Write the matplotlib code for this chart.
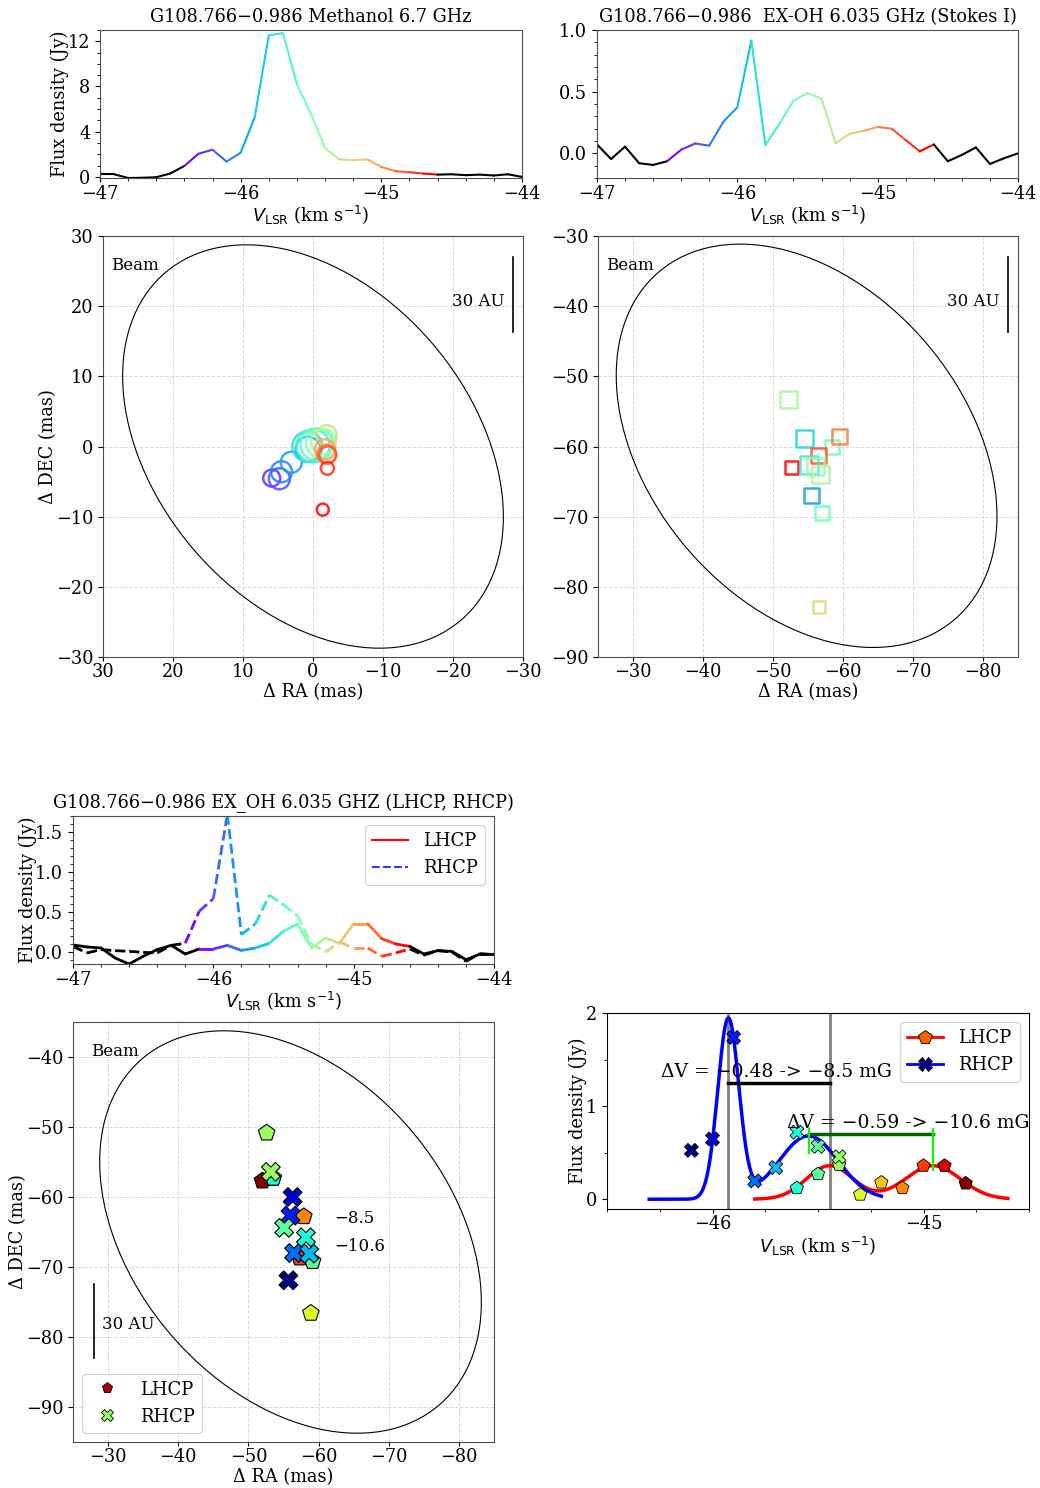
import numpy as np
import matplotlib
matplotlib.use('Agg')
import matplotlib.pyplot as plt
from matplotlib.collections import LineCollection
from matplotlib.patches import Ellipse
from matplotlib.lines import Line2D
from matplotlib.ticker import MultipleLocator

plt.rcParams['font.family'] = ['DejaVu Serif', 'DejaVu Sans']
plt.rcParams['mathtext.fontset'] = 'dejavusans'
plt.rcParams['font.size'] = 12.8
plt.rcParams['xtick.major.size'] = 3
plt.rcParams['xtick.major.pad'] = 1.2
plt.rcParams['axes.labelpad'] = 1.5

# channel velocities (km/s), shared by the three spectra
vel = [-47.0, -46.9, -46.8, -46.7, -46.6, -46.5, -46.4, -46.3, -46.2, -46.1, -46.0,
       -45.9, -45.8, -45.7, -45.6, -45.5, -45.4, -45.3, -45.2, -45.1, -45.0,
       -44.9, -44.8, -44.7, -44.6, -44.5, -44.4, -44.3, -44.2, -44.1, -44.0]

# methanol 6.7 GHz spectrum
mm_flux = [0.23, 0.23, -0.1, -0.08, -0.03, 0.3, 0.97, 2.05, 2.4, 1.35, 2.14,
           5.28, 12.52, 12.73, 8.2, 5.57, 2.55, 1.55, 1.47, 1.55, 0.88,
           0.5, 0.41, 0.29, 0.2, 0.23, 0.15, 0.2, 0.12, 0.23, 0.0]
# ex-OH Stokes I
ex_flux = [0.072, -0.046, 0.054, -0.08, -0.094, -0.064, 0.03, 0.08, 0.062, 0.255, 0.373,
           0.914, 0.067, 0.239, 0.426, 0.49, 0.442, 0.083, 0.158, 0.182, 0.214,
           0.2, 0.107, 0.016, 0.072, -0.064, -0.013, 0.048, -0.086, -0.04, 0.0]
# ex-OH LHCP / RHCP
lhcp_flux = [0.088, 0.063, 0.05, -0.075, -0.15, -0.054, 0.03, 0.083, -0.025, 0.038, 0.038,
             0.083, 0.02, 0.05, 0.11, 0.26, 0.35, 0.05, 0.175, 0.11, 0.354,
             0.354, 0.167, 0.1, 0.07, -0.025, 0.017, 0.008, -0.096, -0.025, -0.025]
rhcp_flux = [0.07, -0.012, 0.03, 0.017, 0.008, -0.004, -0.012, 0.083, 0.11, 0.51, 0.667,
             1.72, 0.217, 0.354, 0.71, 0.59, 0.454, 0.1, 0.0, 0.125, 0.05,
             0.05, -0.054, -0.012, 0.038, -0.04, 0.017, 0.0, -0.117, -0.02, -0.033]

# methanol spots (mas), velocity, symbol size (px)
mm_ra = [5.9, 4.8, 4.5, 3.1, 0.7, 0.8, 0.0, -0.5, -1.0, -1.5, -1.95, -1.7, -1.95, -2.1, -2.05, -1.4]
mm_dec = [-4.5, -4.6, -3.6, -2.25, -0.4, 0.0, 0.1, 0.3, 0.46, 0.7, 1.6, -0.4, -1.1, -1.2, -3.1, -9.0]
mm_vel = [-46.3, -46.2, -46.1, -46.0, -45.9, -45.8, -45.7, -45.6, -45.5, -45.4, -45.2,
          -45.0, -44.9, -44.8, -44.7, -44.6]
mm_size = [17, 21, 21, 21, 25, 30, 33, 32, 28, 25, 20, 20, 19, 17, 13, 12]

# ex-OH Stokes I spots
ex_ra = [-52.25, -54.5, -58.4, -59.46, -56.5, -52.6, -55.2, -56.0, -56.8, -55.55, -57.05, -56.5]
ex_dec = [-53.3, -58.86, -60.05, -58.6, -61.3, -63.04, -62.7, -62.8, -64.0, -66.96, -69.5, -82.86]
ex_vel = [-45.4, -45.9, -45.6, -44.9, -44.8, -44.6, -45.8, -45.5, -45.4, -46.1, -45.6, -45.2]
ex_size = [17, 17, 14, 15, 15, 13, 18, 17, 17, 15, 14, 12]

# Zeeman pair spots
lh_vel = [-45.6, -45.5, -45.4, -45.3, -45.2, -45.1, -45.0, -44.9, -44.8]
lh_pk = [0.12, 0.27, 0.37, 0.05, 0.18, 0.12, 0.36, 0.36, 0.17]
lh_ra = [-53.55, -59.15, -52.6, -58.9, -53.5, -57.9, -57.35, -57.3, -52.0]
lh_dec = [-57.3, -69.2, -50.85, -76.6, -57.3, -62.8, -68.7, -68.6, -57.7]
rh_vel = [-46.1, -46.0, -45.9, -45.8, -45.7, -45.6, -45.5, -45.4]
rh_pk = [0.525, 0.647, 1.737, 0.197, 0.34, 0.72, 0.567, 0.456]
rh_ra = [-55.7, -56.3, -56.0, -56.5, -58.67, -58.2, -55.1, -53.2]
rh_dec = [-71.9, -60.0, -62.66, -68.0, -68.1, -65.76, -64.4, -56.4]

# gaussian fits: amplitude, centre, sigma
rh_fit = [(1.93, -45.925, 0.05), (0.68, -45.545, 0.14)]
lh_fit = [(0.36, -45.445, 0.11), (0.36, -44.955, 0.13)]
rh_fit_range = (-46.3, -45.2)
lh_fit_range = (-45.8, -44.6)

rainbow = plt.get_cmap('rainbow')
jet = plt.get_cmap('jet')
W, H = 1040, 1488
fig = plt.figure(figsize=(W / 100, H / 100), dpi=100)


def add_ax(x0, x1, y0, y1):
    return fig.add_axes([x0 / W, 1 - y1 / H, (x1 - x0) / W, (y1 - y0) / H])


def spec_line(ax, v, f, lo, hi, ls='-', lw=1.5):
    segs, cols = [], []
    for i in range(len(v) - 1):
        segs.append([(v[i], f[i]), (v[i + 1], f[i + 1])])
        if v[i] >= lo - 1e-6 and v[i + 1] <= hi + 1e-6:
            cols.append(rainbow((v[i] - lo) / (hi - lo - 0.1)))
        else:
            cols.append('k')
    lc = LineCollection(segs, colors=cols, linewidths=lw, linestyles=ls,
                        capstyle='round' if ls == '-' else 'butt')
    ax.add_collection(lc)


def spec_axes(ax, ylim, ymaj, ymin):
    ax.set_xlim(-47, -44)
    ax.set_ylim(*ylim)
    ax.xaxis.set_major_locator(MultipleLocator(1))
    ax.xaxis.set_minor_locator(MultipleLocator(0.2))
    ax.yaxis.set_major_locator(MultipleLocator(ymaj))
    ax.yaxis.set_minor_locator(MultipleLocator(ymin))
    ax.tick_params(axis='x', which='major', pad=2.2)
    ax.set_xlabel(r'$V_{\rm LSR}$ (km s$^{-1}$)', labelpad=0.5)
    for s in ax.spines.values():
        s.set_color('0.3')


def map_axes(ax, cx, cy, xlim, ylim, bar_right=True):
    ax.set_xlim(*xlim)
    ax.set_ylim(*ylim)
    ax.xaxis.set_major_locator(MultipleLocator(10))
    ax.yaxis.set_major_locator(MultipleLocator(10))
    ax.grid(ls='--', color='0.85', lw=0.7)
    ax.set_axisbelow(True)
    ax.add_patch(Ellipse((cx, cy), 65.1, 45.0, angle=49.5, fill=False, lw=0.8, color='k'))
    ax.set_xlabel(r'Δ RA (mas)')
    for s in ax.spines.values():
        s.set_color('0.3')
    if bar_right:
        ax.text(0.018, 0.93, 'Beam', transform=ax.transAxes, ha='left', va='center', fontsize=12)
        ax.plot([0.977, 0.977], [0.773, 0.95], 'k', lw=1.2, transform=ax.transAxes)
        ax.text(0.955, 0.845, '30 AU', transform=ax.transAxes, ha='right', va='center', fontsize=12)
    else:
        ax.text(0.044, 0.929, 'Beam', transform=ax.transAxes, ha='left', va='center', fontsize=12)
        ax.plot([0.05, 0.05], [0.199, 0.376], 'k', lw=1.2, transform=ax.transAxes)
        ax.text(0.068, 0.279, '30 AU', transform=ax.transAxes, ha='left', va='center', fontsize=12)


px2pt = 72 / 100

# --- methanol spectrum
ax1 = add_ax(100, 522, 30, 178)
spec_line(ax1, vel, mm_flux, -46.4, -44.6)
spec_axes(ax1, (-0.1, 13), 4, 1)
ax1.set_ylabel('Flux density (Jy)', labelpad=-1)
ax1.set_title('G108.766−0.986 Methanol 6.7 GHz', fontsize=12.8)

# --- ex-OH Stokes I spectrum
ax2 = add_ax(597, 1018, 30, 178)
spec_line(ax2, vel, ex_flux, -46.5, -44.6)
spec_axes(ax2, (-0.2, 1.0), 0.5, 0.1)
ax2.set_title('G108.766−0.986  EX-OH 6.035 GHz (Stokes I)', fontsize=12.8)

# --- methanol map
ax3 = add_ax(103, 523, 236, 657)
map_axes(ax3, 0.0, 0.0, (30, -30), (-30, 30))
mm_t = [(v + 46.4) / 1.8 for v in mm_vel]
ax3.scatter(mm_ra, mm_dec, s=[(d * px2pt) ** 2 for d in mm_size], facecolors='none',
            edgecolors=rainbow(mm_t), linewidths=1.8, alpha=0.85, zorder=3)
ax3.set_ylabel(r'Δ DEC (mas)', labelpad=-1)

# --- ex-OH map
ax4 = add_ax(598, 1018, 236, 657)
map_axes(ax4, -54.8, -59.9, (-25, -85), (-90, -30))
ex_t = [(v + 46.5) / 1.9 for v in ex_vel]
ax4.scatter(ex_ra, ex_dec, s=[(d * px2pt) ** 2 for d in ex_size], marker='s', facecolors='none',
            edgecolors=rainbow(ex_t), linewidths=1.8, alpha=0.85, zorder=3)

# --- LHCP / RHCP spectrum
ax5 = add_ax(73, 494, 816, 964)
spec_line(ax5, vel, lhcp_flux, -46.1, -44.6, lw=2)
spec_line(ax5, vel, rhcp_flux, -46.2, -44.6, ls='--', lw=2)
spec_axes(ax5, (-0.15, 1.7), 0.5, 0.1)
ax5.set_ylabel('Flux density (Jy)', labelpad=-1)
ax5.set_title('G108.766−0.986 EX_OH 6.035 GHZ (LHCP, RHCP)', fontsize=12.8)
ax5.legend(handles=[Line2D([], [], color='red', lw=1.5, label='LHCP'),
                    Line2D([], [], color='#2040ff', lw=1.5, ls='--', label='RHCP')],
           loc='upper right', fontsize=13)

# --- Zeeman pair map
jnorm = plt.Normalize(-46.1, -44.8)
ax6 = add_ax(73, 494, 1022, 1442)
map_axes(ax6, -56.0, -65.0, (-25, -85), (-95, -35), bar_right=False)
ax6.scatter(lh_ra[::-1], lh_dec[::-1], s=12.5 ** 2, marker='p',
            c=jet(jnorm(lh_vel[::-1])), edgecolors='k', linewidths=0.8, zorder=3)
ax6.scatter(rh_ra, rh_dec, s=13.5 ** 2, marker='X',
            c=jet(jnorm(rh_vel)), edgecolors='k', linewidths=0.8, zorder=4)
ax6.text(-62.3, -63.1, '−8.5', ha='left', va='center', fontsize=12)
ax6.text(-62.3, -67.1, '−10.6', ha='left', va='center', fontsize=12)
ax6.set_ylabel(r'Δ DEC (mas)', labelpad=-1)
ax6.legend(handles=[Line2D([], [], ls='none', marker='p', ms=8, mfc=jet(jnorm(-44.85)), mec='k',
                           mew=0.6, label='LHCP'),
                    Line2D([], [], ls='none', marker='X', ms=8, mfc=jet(jnorm(-45.4)), mec='k',
                           mew=0.6, label='RHCP')],
           loc='lower left', fontsize=13)

# --- Gaussian fits of the Zeeman pair
ax7 = add_ax(607, 1029, 1013, 1209)
xr = np.linspace(*rh_fit_range, 400)
yr = sum(a * np.exp(-(xr - c) ** 2 / (2 * s ** 2)) for a, c, s in rh_fit)
xl = np.linspace(*lh_fit_range, 400)
yl = sum(a * np.exp(-(xl - c) ** 2 / (2 * s ** 2)) for a, c, s in lh_fit)
ax7.axvline(rh_fit[0][1], color='gray', lw=2, zorder=1)
ax7.axvline(lh_fit[0][1], color='gray', lw=2, zorder=1)
ax7.plot(xl, yl, color='red', lw=2.5, zorder=2)
ax7.plot(xr, yr, color='blue', lw=2.5, zorder=2)
ax7.scatter(lh_vel, lh_pk, s=10 ** 2, marker='p', c=jet(jnorm(lh_vel)), edgecolors='k',
            linewidths=0.6, zorder=3)
ax7.scatter(rh_vel, rh_pk, s=10 ** 2, marker='X', c=jet(jnorm(rh_vel)), edgecolors='k',
            linewidths=0.6, zorder=3)
ax7.plot([rh_fit[0][1], lh_fit[0][1]], [1.25, 1.25], color='k', lw=2.5, zorder=4)
ax7.text(-46.245, 1.37, 'ΔV = −0.48 -> −8.5 mG', ha='left', va='center', fontsize=13.5, zorder=5)
ax7.plot([rh_fit[1][1], lh_fit[1][1]], [0.70, 0.70], color='darkgreen', lw=2.5, zorder=4)
ax7.plot([rh_fit[1][1], rh_fit[1][1]], [0.50, 0.75], color='lime', lw=1.5, zorder=4)
ax7.plot([lh_fit[1][1], lh_fit[1][1]], [0.31, 0.75], color='lime', lw=1.5, zorder=4)
ax7.text(-45.647, 0.82, 'ΔV = −0.59 -> −10.6 mG', ha='left', va='center', fontsize=13.5, zorder=5)
ax7.set_xlim(-46.5, -44.5)
ax7.set_ylim(-0.105, 2.0)
ax7.xaxis.set_major_locator(MultipleLocator(1))
ax7.xaxis.set_minor_locator(MultipleLocator(0.25))
ax7.yaxis.set_major_locator(MultipleLocator(1))
ax7.yaxis.set_minor_locator(MultipleLocator(0.5))
ax7.set_xlabel(r'$V_{\rm LSR}$ (km s$^{-1}$)')
ax7.set_ylabel('Flux density (Jy)', labelpad=-1)
ax7.legend(handles=[Line2D([], [], color='red', lw=2, marker='p', ms=10,
                           mfc=jet(jnorm(-45.05)), mec='k', mew=0.6, label='LHCP'),
                    Line2D([], [], color='blue', lw=2, marker='X', ms=10,
                           mfc=jet(jnorm(-46.1)), mec='k', mew=0.6, label='RHCP')],
           loc='upper right', fontsize=13)

fig.savefig('out.png', dpi=100)
